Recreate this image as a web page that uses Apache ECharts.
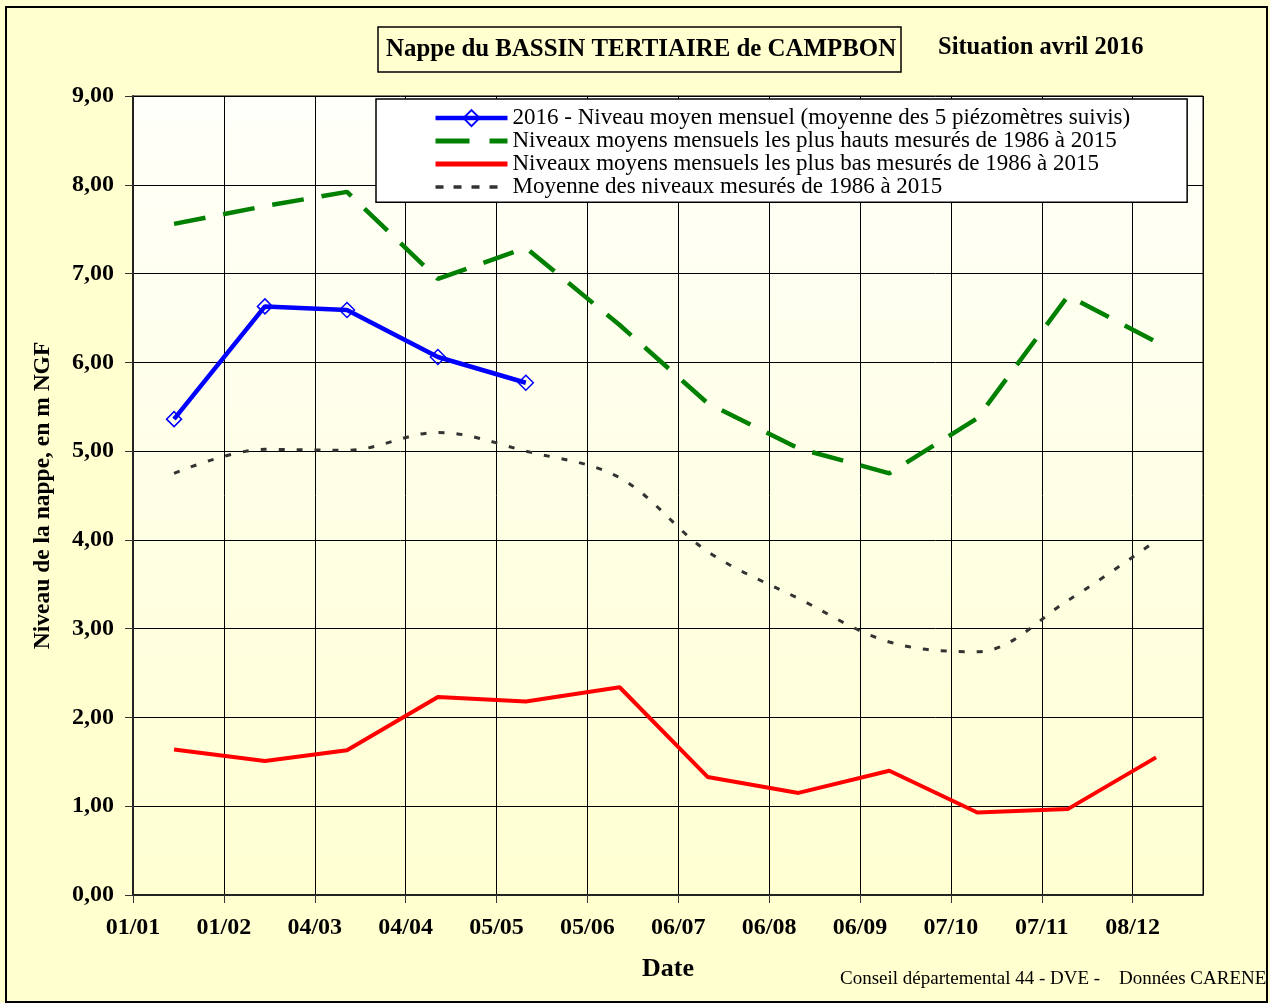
<!DOCTYPE html>
<html><head><meta charset="utf-8">
<script src="https://cdn.jsdelivr.net/npm/echarts@6/dist/echarts.min.js"></script>
<style>html,body{margin:0;padding:0;background:#FFFFD0}#c{width:1270px;height:1003px}</style>
</head><body><div id="c"></div>
<script>
// ---- data ----
const xTickLabels = ['01/01','01/02','04/03','04/04','05/05','05/06','06/07','06/08','06/09','07/10','07/11','08/12'];
const dates2016 = ['15/01','15/02','15/03','15/04','15/05'];
const datesRef = ['15/01','15/02','15/03','15/04','15/05','16/06','16/07','16/08','16/09','16/10','16/11','16/12'];
const niveau2016 = [5.36, 6.63, 6.59, 6.06, 5.77];
const plusHauts = [7.56, 7.76, 7.92, 6.94, 7.29, 6.42, 5.54, 5.03, 4.75, 5.37, 6.75, 6.23];
const plusBas = [1.64, 1.51, 1.63, 2.23, 2.18, 2.34, 1.33, 1.15, 1.40, 0.93, 0.97, 1.55];
const moyenne = [4.75, 5.02, 5.01, 5.21, 5.00, 4.70, 3.87, 3.34, 2.85, 2.74, 3.32, 3.99];
const seriesNames = [
  '2016 - Niveau moyen mensuel (moyenne des 5 piézomètres suivis)',
  'Niveaux moyens mensuels les plus hauts mesurés de 1986 à 2015',
  'Niveaux moyens mensuels les plus bas mesurés de 1986 à 2015',
  'Moyenne des niveaux mesurés de 1986 à 2015'
];

function dayOfYear(s) {
  const p = s.split('/').map(Number);
  return (Date.UTC(2015, p[1] - 1, p[0]) - Date.UTC(2015, 0, 1)) / 864e5;
}
function pairs(dates, vals) { return dates.map((d, i) => [dayOfYear(d), vals[i]]); }

const FONT = '"Liberation Serif", "Times New Roman", serif';
const chart = echarts.init(document.getElementById('c'), null, {renderer: 'canvas'});
chart.setOption({
  animation: false,
  backgroundColor: '#FFFFD0',
  title: [
    {text: 'Nappe du BASSIN TERTIAIRE de CAMPBON', left: 378, top: 27, padding: [10, 5, 10, 8],
     borderColor: '#000', borderWidth: 1.5,
     textStyle: {fontFamily: FONT, fontWeight: 'bold', fontSize: 24.9, lineHeight: 25, color: '#000'}},
    {text: 'Situation avril 2016', left: 938, top: 35, padding: 0,
     textStyle: {fontFamily: FONT, fontWeight: 'bold', fontSize: 24.5, lineHeight: 25, color: '#000'}},
    {text: 'Conseil départemental 44 - DVE -\u00a0\u00a0\u00a0\u00a0Données CARENE', left: 840, top: 970, padding: 0,
     textStyle: {fontFamily: FONT, fontWeight: 'normal', fontSize: 19, color: '#000'}}
  ],
  graphic: [{type: 'rect', shape: {x: 6, y: 7, width: 1261, height: 995},
    style: {fill: 'none', stroke: '#000', lineWidth: 2}, silent: true, z: 100}],
  legend: {
    orient: 'vertical', left: 376, top: 99,
    padding: [7.6, 57, 3.6, 57], itemGap: 0, itemWidth: 72, itemHeight: 20,
    backgroundColor: '#FFFFFF', borderColor: '#000', borderWidth: 1.5,
    lineStyle: {width: 'inherit'},
    textStyle: {fontFamily: FONT, fontSize: 23, color: '#000', lineHeight: 22.7},
    data: [
      {name: seriesNames[0], lineStyle: {width: 4.5}},
      {name: seriesNames[1], itemStyle: {opacity: 0}, lineStyle: {width: 5, type: [34, 20]}},
      {name: seriesNames[2], itemStyle: {opacity: 0}, lineStyle: {width: 5}},
      {name: seriesNames[3], itemStyle: {opacity: 0}, lineStyle: {width: 3.5, type: [8, 10]}}
    ]
  },
  grid: {left: 133, top: 96, right: 67, bottom: 108, show: true, borderColor: '#000', borderWidth: 1,
    backgroundColor: new echarts.graphic.LinearGradient(0, 0, 0, 1, [
      {offset: 0, color: '#FFFFFA'}, {offset: 1, color: '#FFFFD2'}])},
  xAxis: {
    type: 'value', min: 0, max: 365, interval: 31,
    name: 'Date', nameLocation: 'middle', nameGap: 61,
    nameTextStyle: {fontFamily: FONT, fontWeight: 'bold', fontSize: 26, color: '#000'},
    axisLine: {show: true, lineStyle: {color: '#222', width: 2}},
    axisTick: {show: true, length: 8, lineStyle: {color: '#333'}},
    axisLabel: {fontFamily: FONT, fontWeight: 'bold', fontSize: 24, color: '#000', margin: 21,
      showMaxLabel: false,
      formatter: v => { const i = Math.round(v / 31); return (Math.abs(v - i * 31) < 0.01 && xTickLabels[i]) ? xTickLabels[i] : ''; }},
    splitLine: {show: true, lineStyle: {color: '#000', width: 1}}
  },
  yAxis: {
    type: 'value', min: 0, max: 9, interval: 1,
    name: 'Niveau de la nappe, en m NGF', nameLocation: 'middle', nameGap: 78, nameRotate: 90,
    nameTextStyle: {fontFamily: FONT, fontWeight: 'bold', fontSize: 23.5, color: '#000'},
    axisLine: {show: true, lineStyle: {color: '#222', width: 2}},
    axisTick: {show: true, length: 8, lineStyle: {color: '#333'}},
    axisLabel: {fontFamily: FONT, fontWeight: 'bold', fontSize: 24, color: '#000', margin: 19,
      formatter: v => v.toFixed(2).replace('.', ',')},
    splitLine: {show: true, lineStyle: {color: '#000', width: 1}}
  },
  series: [
    {name: seriesNames[0], type: 'line', data: pairs(dates2016, niveau2016), z: 5,
     symbol: 'diamond', symbolSize: 15, showSymbol: true,
     lineStyle: {color: '#0000FF', width: 4.5},
     itemStyle: {color: 'rgba(255,255,255,0)', borderColor: '#0000FF', borderWidth: 1.5}},
    {name: seriesNames[1], type: 'line', data: pairs(datesRef, plusHauts), symbol: 'none',
     color: '#008000', lineStyle: {color: '#008000', width: 4.5, type: [32, 18]}},
    {name: seriesNames[2], type: 'line', data: pairs(datesRef, plusBas), symbol: 'none',
     color: '#FF0000', lineStyle: {color: '#FF0000', width: 4}},
    {name: seriesNames[3], type: 'line', data: pairs(datesRef, moyenne), symbol: 'none', smooth: 0.35,
     color: '#333333', lineStyle: {color: '#333333', width: 3, type: [6, 12]}}
  ]
});
</script></body></html>
